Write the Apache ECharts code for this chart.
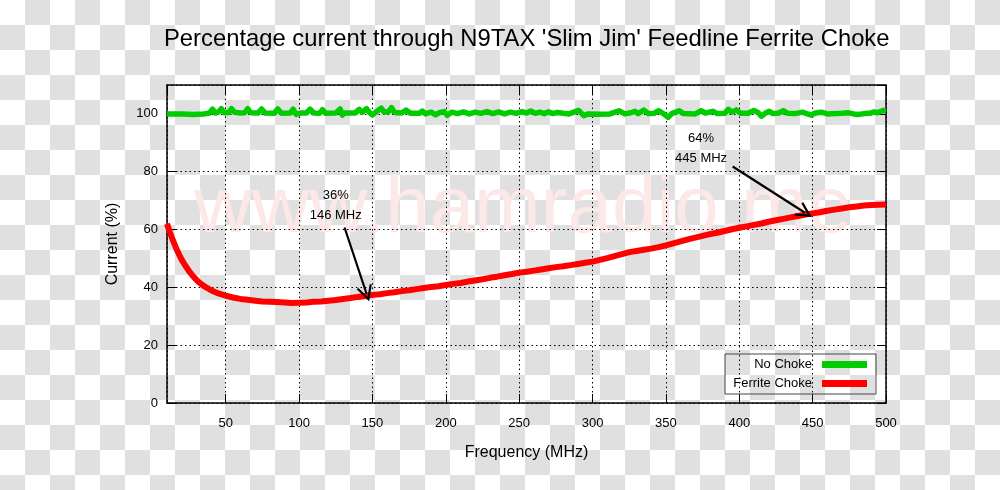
<!DOCTYPE html>
<html>
<head>
<meta charset="utf-8">
<script src="https://cdn.jsdelivr.net/npm/echarts@6/dist/echarts.min.js"></script>
<style>
  html, body { margin: 0; padding: 0; }
  body {
    width: 1000px; height: 490px;
    background: repeating-conic-gradient(#e0e0e0 0 25%, #ffffff 0 50%) 0 0 / 50px 50px;
  }
  #chart { width: 1000px; height: 490px; }
</style>
</head>
<body>
<div id="chart"></div>
<script>
// ---- data ----
const titleText = "Percentage current through N9TAX 'Slim Jim' Feedline Ferrite Choke";
const xAxisName = 'Frequency (MHz)';
const yAxisName = 'Current (%)';
const seriesNames = ['No Choke', 'Ferrite Choke'];
const watermarkText = 'www.hamradio.me';

const greenFreq = [10,20,28,35,39,41,43,45,47,49,52,54,56,60,63,65,67,72,74.5,77,83,85.5,88,94,96,98,101,105,107.5,110,114,116,118,125,128,129.5,131,138,141,143,146,148,150,152,156,158,161,163,165,170,173,176,182,184,186,190,193,196,199,201,204,208,212,216,220,224,228,232,236,240,244,248,252,255,258,261,264,267,270,273,276,280,284,290.5,294,297,305,312,318,322,326,329,331,335,338,342,345,348,351.5,354,359,362,370,374,377,382,385,390,392.5,395,398,401,406,410,413,415,418,420.5,423,427,430,433,438,443,446,449,452,456,460,466,470,474,478,481,485,489,492,494,498,500];
const greenPct = [100,100,99.8,100,100.3,101.6,100.3,100.6,101.8,100.4,100.5,101.8,100.6,100.3,100.4,101.8,100.4,100.3,101.7,100.3,100.2,101.7,100.2,100.3,101.6,99.8,100.3,100.3,101.6,100.3,100.2,101.5,100.2,100.3,101.7,99.6,100.3,100.3,101.6,100.5,101.8,100.5,99.6,100.5,102,100.6,100.8,102.2,100.5,100.3,101.3,100.2,100.2,101,100,100.6,99.7,100.5,100.8,99.5,100.6,100.1,100.7,100,100.6,100.2,100.8,100.1,100.7,100,100.6,100.2,100.8,100.3,101,100.2,100.6,100.1,100.7,100.1,100.5,100.2,100,101.2,99.4,100,99.9,100,101.1,100,100.4,100.9,100.1,101.3,100.1,100.2,101.1,100.2,98.8,100.1,101.1,100.1,100,101.1,100.3,100.9,100.1,100.2,101.6,100.6,101.4,100.2,100.2,101.2,100.4,99.2,100.3,100.9,100.1,100.3,101.1,100.2,100.1,100.6,100.1,99.6,100.3,100.6,100,100.1,100.2,100.4,100,99.8,100.1,100.2,100.7,100.4,101.2,101.1];

const redFreq = [10,12,14,16,18,20,22,25,28,31,35,40,45,50,55,60,65,70,75,80,85,90,95,100,105,110,115,120,125,130,135,140,146,150,155,160,165,170,175,180,185,190,195,200,205,210,215,220,225,230,235,240,245,250,255,260,265,270,275,280,285,290,295,300,305,310,315,320,325,330,335,340,345,350,355,360,365,370,375,380,385,390,395,400,405,410,415,420,425,430,435,440,445,450,455,460,465,470,475,480,485,490,495,500];
const redPct = [62,59,56.3,53.8,51.6,49.6,47.9,45.6,43.7,42.1,40.5,39.0,37.9,37.1,36.5,36.0,35.7,35.4,35.1,35.0,34.9,34.8,34.6,34.7,34.8,35.0,35.1,35.4,35.6,36.0,36.3,36.7,37.1,37.4,37.6,38.0,38.3,38.7,39.0,39.4,39.8,40.1,40.4,40.8,41.2,41.5,42.0,42.4,42.8,43.3,43.7,44.2,44.6,45.1,45.4,45.8,46.2,46.6,47.0,47.3,47.7,48.1,48.5,48.9,49.5,50.1,50.8,51.5,52.2,52.6,53.0,53.4,53.9,54.5,55.2,55.9,56.6,57.2,57.8,58.4,58.9,59.5,60.1,60.6,61.1,61.6,62.1,62.7,63.2,63.7,64.2,64.7,65.2,65.6,66.0,66.5,66.9,67.3,67.7,68.0,68.3,68.5,68.6,68.7];

// annotations: text, text anchor (MHz, %), arrow start (MHz, %), arrow tip (MHz, %)
const annotationTexts = ['36%\n146 MHz', '64%\n445 MHz'];
const annotationTextAt = [[125, 68.2], [374, 88.1]];
const annotationFrom = [[131, 60.7], [395.5, 81.8]];
const annotationTo = [[146, 37.8], [444.8, 65.8]];

const xMin = 10, xMax = 500, yMin = 0, yMax = 110, yStep = 20;

// ---- chart ----
const FONT = 'Liberation Sans, Arial, sans-serif';
const chart = echarts.init(document.getElementById('chart'), null, { renderer: 'canvas' });

const toPairs = (xs, ys) => xs.map((x, i) => [x, ys[i]]);
const vArrow = 'path://M5,0 L10,14 L8.7,14.6 L5,4.4 L1.3,14.6 L0,14 Z';

const gridLine = { show: true, lineStyle: { color: '#000', width: 1, type: [1.5, 3] } };
const axisLine = { show: true, onZero: false, lineStyle: { color: '#000', width: 1.5 } };
const axisTick = { show: true, inside: true, length: 9, lineStyle: { color: '#000', width: 1 } };

chart.setOption({
  backgroundColor: 'transparent',
  animation: false,
  title: {
    text: titleText,
    left: 164,
    top: 27,
    padding: 0,
    textStyle: { fontFamily: FONT, fontSize: 23.8, fontWeight: 'normal', color: '#000' }
  },
  graphic: [{
    type: 'text',
    z: -10,
    left: 194,
    top: 170,
    style: {
      text: watermarkText,
      font: '80px ' + FONT,
      fill: '#fde8e8'
    },
    silent: true
  }],
  legend: {
    data: seriesNames,
    orient: 'vertical',
    right: 124,
    top: 354,
    align: 'right',
    itemWidth: 45,
    itemHeight: 7,
    itemGap: 4,
    icon: 'rect',
    padding: [3, 9, 3, 8],
    borderColor: '#444',
    borderWidth: 1,
    backgroundColor: 'transparent',
    textStyle: {
      fontFamily: FONT, fontSize: 13, color: '#000',
      width: 79, align: 'right', lineHeight: 15, padding: [0, 5, 0, 0]
    }
  },
  grid: { left: 167, right: 114, top: 85, bottom: 87, containLabel: false },
  xAxis: [{
    type: 'value', min: xMin, max: xMax, splitNumber: 10,
    position: 'bottom',
    name: xAxisName, nameLocation: 'middle', nameGap: 42,
    nameTextStyle: { fontFamily: FONT, fontSize: 16, color: '#000' },
    axisLine: axisLine, axisTick: axisTick, splitLine: gridLine,
    axisLabel: { show: true, showMinLabel: false, margin: 14, fontFamily: FONT, fontSize: 13, color: '#000' }
  }, {
    type: 'value', min: xMin, max: xMax, splitNumber: 10,
    position: 'top',
    axisLine: axisLine, axisTick: axisTick, splitLine: { show: false },
    axisLabel: { show: false }
  }],
  yAxis: [{
    type: 'value', min: yMin, max: yMax, interval: yStep,
    position: 'left',
    name: yAxisName, nameLocation: 'middle', nameGap: 46,
    nameTextStyle: { fontFamily: FONT, fontSize: 16, color: '#000' },
    axisLine: axisLine, axisTick: axisTick, splitLine: gridLine,
    axisLabel: { show: true, showMaxLabel: false, margin: 9, fontFamily: FONT, fontSize: 13, color: '#000' }
  }, {
    type: 'value', min: yMin, max: yMax, interval: yStep,
    position: 'right',
    axisLine: axisLine, axisTick: axisTick, splitLine: { show: false },
    axisLabel: { show: false }
  }],
  series: [{
    name: seriesNames[0],
    type: 'line',
    xAxisIndex: 0, yAxisIndex: 0,
    data: toPairs(greenFreq, greenPct),
    showSymbol: false, symbol: 'none',
    lineStyle: { color: '#00cc00', width: 5.5, join: 'round' },
    itemStyle: { color: '#00cc00' },
    z: 3
  }, {
    name: seriesNames[1],
    type: 'line',
    xAxisIndex: 0, yAxisIndex: 0,
    data: toPairs(redFreq, redPct),
    showSymbol: false, symbol: 'none',
    lineStyle: { color: '#ff0000', width: 6, join: 'round' },
    itemStyle: { color: '#ff0000' },
    z: 3,
    markLine: {
      silent: true,
      symbol: ['none', vArrow],
      symbolSize: 16,
      label: { show: false },
      lineStyle: { color: '#000', width: 2.2, type: 'solid' },
      z: 5,
      data: annotationFrom.map((f, i) => [{ coord: f }, { coord: annotationTo[i] }])
    },
    markPoint: {
      silent: true,
      symbol: 'circle',
      symbolSize: 0,
      label: {
        show: true, position: 'inside', color: '#000',
        fontFamily: FONT, fontSize: 13, lineHeight: 20,
        formatter: p => p.name
      },
      data: annotationTexts.map((t, i) => ({ name: t, coord: annotationTextAt[i] }))
    }
  }]
});
</script>
</body>
</html>
